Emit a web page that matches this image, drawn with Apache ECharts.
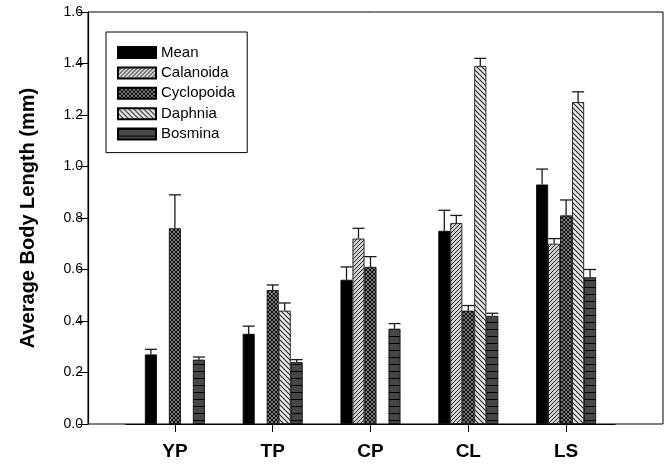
<!DOCTYPE html>
<html>
<head>
<meta charset="utf-8">
<script src="https://cdn.jsdelivr.net/npm/echarts@6/dist/echarts.min.js"></script>
<style>
html,body{margin:0;padding:0;background:#fff;}
#chart{width:667px;height:466px;}
</style>
</head>
<body>
<div id="chart"></div>
<script>
// ---- data ----
const categories = ['YP', 'TP', 'CP', 'CL', 'LS'];
const seriesNames = ['Mean', 'Calanoida', 'Cyclopoida', 'Daphnia', 'Bosmina'];
const mean          = [0.27, 0.35, 0.56, 0.75, 0.93];
const meanErr       = [0.02, 0.03, 0.05, 0.08, 0.06];
const calanoida     = [null, null, 0.72, 0.78, 0.70];
const calanoidaErr  = [null, null, 0.04, 0.03, 0.02];
const cyclopoida    = [0.76, 0.52, 0.61, 0.44, 0.81];
const cyclopoidaErr = [0.13, 0.02, 0.04, 0.02, 0.06];
const daphnia       = [null, 0.44, null, 1.39, 1.25];
const daphniaErr    = [null, 0.03, null, 0.03, 0.04];
const bosmina       = [0.25, 0.24, 0.37, 0.42, 0.57];
const bosminaErr    = [0.01, 0.01, 0.02, 0.01, 0.03];
const yTicks = [0.0, 0.2, 0.4, 0.6, 0.8, 1.0, 1.2, 1.4, 1.6];

const values = [mean, calanoida, cyclopoida, daphnia, bosmina];
const errors = [meanErr, calanoidaErr, cyclopoidaErr, daphniaErr, bosminaErr];

// ---- patterns ----
function makePattern(w, h, draw) {
  const c = document.createElement('canvas');
  c.width = w; c.height = h;
  const ctx = c.getContext('2d');
  draw(ctx, w, h);
  return { image: c, repeat: 'repeat' };
}
const patMean = '#000000';
const patCal = makePattern(4, 4, (ctx, w, h) => {
  ctx.fillStyle = '#d0d0d0'; ctx.fillRect(0, 0, w, h);
  ctx.strokeStyle = '#2a2a2a'; ctx.lineWidth = 1;
  ctx.beginPath();
  ctx.moveTo(0, h); ctx.lineTo(w, 0);
  ctx.moveTo(-1, 1); ctx.lineTo(1, -1);
  ctx.moveTo(w - 1, h + 1); ctx.lineTo(w + 1, h - 1);
  ctx.stroke();
});
const patCyc = makePattern(4, 4, (ctx, w, h) => {
  ctx.fillStyle = '#787878'; ctx.fillRect(0, 0, w, h);
  ctx.strokeStyle = '#111'; ctx.lineWidth = 1;
  ctx.beginPath();
  ctx.moveTo(0, 0); ctx.lineTo(w, h);
  ctx.moveTo(0, h); ctx.lineTo(w, 0);
  ctx.stroke();
});
const patDaph = makePattern(5, 5, (ctx, w, h) => {
  ctx.fillStyle = '#e8e8e8'; ctx.fillRect(0, 0, w, h);
  ctx.strokeStyle = '#2a2a2a'; ctx.lineWidth = 1.1;
  ctx.beginPath();
  ctx.moveTo(0, 0); ctx.lineTo(w, h);
  ctx.moveTo(-1, h - 1); ctx.lineTo(1, h + 1);
  ctx.moveTo(w - 1, -1); ctx.lineTo(w + 1, 1);
  ctx.stroke();
});
const patBos = makePattern(4, 7, (ctx, w, h) => {
  ctx.fillStyle = '#474747'; ctx.fillRect(0, 0, w, h);
  ctx.fillStyle = '#000'; ctx.fillRect(0, 0, w, 1);
});
const patterns = [patMean, patCal, patCyc, patDaph, patBos];

const BAR_W = 12;
const FONT = '"Liberation Sans", Arial, sans-serif';

const chart = echarts.init(document.getElementById('chart'), null, { renderer: 'canvas' });

const barSeries = seriesNames.map((name, i) => ({
  name: name,
  type: 'bar',
  xAxisIndex: 1,
  yAxisIndex: 1,
  barWidth: BAR_W,
  barGap: '0%',
  data: values[i],
  itemStyle: { color: patterns[i], borderColor: '#000', borderWidth: 0.8 },
  emphasis: { disabled: true },
  z: 3
}));

const errData = [];
values.forEach((arr, s) => {
  arr.forEach((v, c) => {
    if (v != null && errors[s][c] != null) errData.push([c, v, errors[s][c], s]);
  });
});

const errSeries = {
  type: 'custom',
  xAxisIndex: 1,
  yAxisIndex: 1,
  z: 4,
  silent: true,
  data: errData,
  renderItem: function (params, api) {
    const c = api.value(0), v = api.value(1), e = api.value(2), s = api.value(3);
    const base = api.coord([c, v]);
    const top = api.coord([c, v + e]);
    const x = base[0] + (s - 2) * BAR_W;
    const half = BAR_W / 2;
    const st = { stroke: '#1a1a1a', lineWidth: 1.3 };
    return {
      type: 'group',
      children: [
        { type: 'line', shape: { x1: x, y1: base[1], x2: x, y2: top[1] }, style: st },
        { type: 'line', shape: { x1: x - half, y1: top[1], x2: x + half, y2: top[1] }, style: st }
      ]
    };
  }
};

const option = {
  animation: false,
  backgroundColor: '#fff',
  textStyle: { fontFamily: FONT },
  grid: [
    { left: 88, right: 4, top: 12, bottom: 42, show: true, borderColor: '#000', borderWidth: 1, backgroundColor: 'transparent' },
    { left: 126, width: 489, top: 12, bottom: 42 }
  ],
  xAxis: [
    { type: 'value', gridIndex: 0, show: false, min: 0, max: 1 },
    {
      type: 'category', gridIndex: 1, data: categories,
      axisLine: { show: true, lineStyle: { color: '#000', width: 1.2 } },
      axisTick: { show: true, alignWithLabel: true, inside: false, length: 8, lineStyle: { color: '#000', width: 1 } },
      axisLabel: { margin: 18, fontSize: 19, fontWeight: 'bold', color: '#000', fontFamily: FONT }
    }
  ],
  yAxis: [
    {
      type: 'value', gridIndex: 0, min: 0, max: 1.6, interval: 0.2,
      name: 'Average Body Length (mm)', nameLocation: 'middle', nameGap: 50,
      nameTextStyle: { fontSize: 20, fontWeight: 'bold', color: '#000', fontFamily: FONT },
      axisLine: { show: true, lineStyle: { color: '#000', width: 1.2 } },
      axisTick: { show: true, inside: false, length: 10, lineStyle: { color: '#000' } },
      axisLabel: { margin: 5, fontSize: 14, color: '#000', fontFamily: FONT,
        formatter: function (v) { return yTicks.some(t => Math.abs(t - v) < 1e-9) ? v.toFixed(1) : ''; } },
      splitLine: { show: false }
    },
    { type: 'value', gridIndex: 1, min: 0, max: 1.6, show: false, splitLine: { show: false } }
  ],
  legend: {
    orient: 'vertical',
    left: 106, top: 32,
    data: seriesNames,
    itemWidth: 38, itemHeight: 11, itemGap: 5.4,
    icon: 'rect',
    padding: [13, 12, 11, 11],
    borderColor: '#000', borderWidth: 1,
    textStyle: { fontSize: 15, color: '#000', fontFamily: FONT },
    selectedMode: false
  },
  series: barSeries.concat([errSeries])
};
chart.setOption(option);
</script>
</body>
</html>
